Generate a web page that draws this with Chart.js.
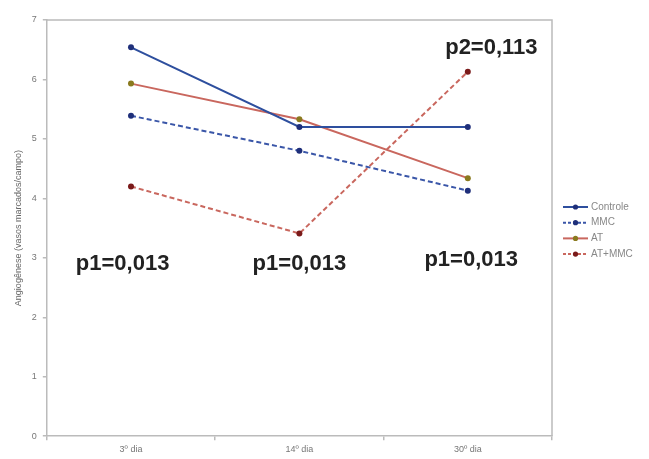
<!DOCTYPE html>
<html><head><meta charset="utf-8">
<script src="https://cdn.jsdelivr.net/npm/chart.js@4"></script>
<style>html,body{margin:0;padding:0;background:#fff}#w{width:649px;height:459px}</style>
</head><body><div id="w"><canvas id="c" width="649" height="459"></canvas></div>
<script>
const categories = ["3º dia", "14º dia", "30º dia"];
const controle = [6.54, 5.2, 5.2];
const mmc = [5.39, 4.8, 4.13];
const at = [5.93, 5.33, 4.34];
const atMmc = [4.2, 3.41, 6.13];
const seriesNames = ["Controle", "MMC", "AT", "AT+MMC"];
const yTicks = [0, 1, 2, 3, 4, 5, 6, 7];
const yTitle = "Angiogênese (vasos marcados/campo)";
const annotations = [
  {text: "p1=0,013", cat: -0.05, y: 2.9},
  {text: "p1=0,013", cat: 1.0, y: 2.9},
  {text: "p1=0,013", cat: 2.02, y: 2.97},
  {text: "p2=0,113", cat: 2.14, y: 6.53}
];

const styles = [
  {c: "#2e4f9e", p: "#1f2f7a", dash: []},
  {c: "#3a56a8", p: "#1f2f7a", dash: [5, 3]},
  {c: "#c9675e", p: "#8a7a1e", dash: []},
  {c: "#c9675e", p: "#7a1a1a", dash: [5, 3]}
];
const dataArr = [controle, mmc, at, atMmc];

const annPlugin = {
  id: 'ann',
  afterDatasetsDraw(chart) {
    const ctx = chart.ctx, xs = chart.scales.x, ys = chart.scales.y;
    const step = xs.getPixelForValue(1) - xs.getPixelForValue(0);
    ctx.save();
    ctx.font = "bold 22px 'Liberation Sans', Arial, sans-serif";
    ctx.fillStyle = "#222";
    ctx.textAlign = "center";
    ctx.textBaseline = "middle";
    annotations.forEach(a => {
      ctx.fillText(a.text, xs.getPixelForValue(0) + a.cat * step, ys.getPixelForValue(a.y));
    });
    // legend
    ctx.font = "10px 'Liberation Sans', Arial, sans-serif";
    ctx.textAlign = "left";
    const lx = 563, ly0 = 207, dy = 15.7;
    seriesNames.forEach((n, i) => {
      const s = styles[i], y = ly0 + i * dy;
      ctx.strokeStyle = s.c; ctx.lineWidth = 2; ctx.setLineDash(s.dash.length ? [3, 2] : []);
      ctx.beginPath(); ctx.moveTo(lx, y); ctx.lineTo(lx + 25, y); ctx.stroke();
      ctx.setLineDash([]);
      ctx.fillStyle = s.p; ctx.beginPath(); ctx.arc(lx + 12.5, y, 2.6, 0, Math.PI * 2); ctx.fill();
      ctx.fillStyle = "#888"; ctx.fillText(n, lx + 28, y);
    });
    // top and right border
    const ca = chart.chartArea;
    ctx.strokeStyle = "#bbb"; ctx.lineWidth = 1.5;
    ctx.beginPath(); ctx.moveTo(ca.left, ca.top); ctx.lineTo(ca.right, ca.top); ctx.lineTo(ca.right, ca.bottom); ctx.stroke();
    ctx.restore();
  }
};

new Chart(document.getElementById('c'), {
  type: 'line',
  data: {
    labels: categories,
    datasets: dataArr.map((d, i) => ({
      label: seriesNames[i], data: d,
      borderColor: styles[i].c, borderWidth: 2, borderDash: styles[i].dash,
      pointBackgroundColor: styles[i].p, pointBorderColor: styles[i].p,
      pointRadius: 3, pointBorderWidth: 0, tension: 0, fill: false
    }))
  },
  options: {
    responsive: false, animation: false,
    layout: {padding: {top: 20, right: 97, left: 11, bottom: 0}},
    plugins: {legend: {display: false}, tooltip: {enabled: false}},
    scales: {
      x: {
        offset: true,
        grid: {offset: true, drawOnChartArea: false, tickLength: 4, color: "#bbb", lineWidth: 1.5},
        border: {color: "#bbb", width: 1.5},
        ticks: {color: "#777", font: {size: 9, family: "Arial"}, padding: 4}
      },
      y: {
        min: 0, max: 7,
        afterBuildTicks: ax => { ax.ticks = yTicks.map(v => ({value: v})); },
        grid: {drawOnChartArea: false, tickLength: 4, color: "#bbb", lineWidth: 1.5},
        border: {color: "#bbb", width: 1.5},
        ticks: {color: "#777", font: {size: 9, family: "Arial"}, padding: 6},
        title: {display: true, text: yTitle, color: "#666", font: {size: 9, family: "Arial"}, padding: 2}
      }
    }
  },
  plugins: [annPlugin]
});
</script></body></html>
